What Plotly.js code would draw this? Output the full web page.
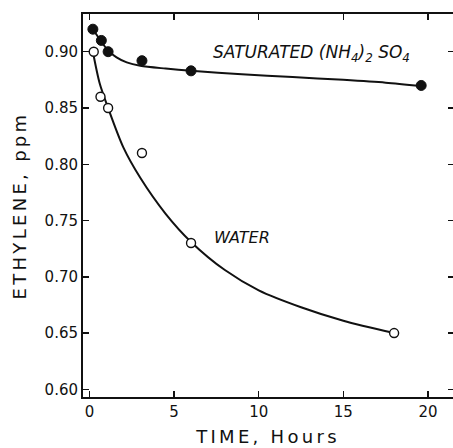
<!DOCTYPE html>
<html>
<head>
<meta charset="utf-8">
<script src="https://cdn.plot.ly/plotly-3.0.1.min.js"></script>
<style>
  html, body { margin: 0; padding: 0; background: #fff; overflow: hidden; }
  #chart { width: 453px; height: 448px; }
  .xtitle, .ytitle { letter-spacing: 3.3px; }
</style>
</head>
<body>
<div id="chart"></div>
<script>
// Measured points
const satTime   = [0.2, 0.7, 1.1, 3.1, 6.0, 19.6];
const satPpm    = [0.920, 0.910, 0.900, 0.892, 0.883, 0.870];
const waterTime = [0.25, 0.65, 1.1, 3.1, 6.0, 18.0];
const waterPpm  = [0.900, 0.860, 0.850, 0.810, 0.730, 0.650];

// Hand-drawn fitted curves
const satCurveTime  = [0.2, 0.7, 1.1, 1.6, 2.2, 3.0, 4.5, 6.0, 9.0, 12.0, 15.0, 17.5, 19.6];
const satCurvePpm   = [0.920, 0.909, 0.901, 0.895, 0.8905, 0.8875, 0.885, 0.883, 0.880, 0.8775, 0.875, 0.8725, 0.8695];
const waterCurveTime = [0.2, 0.6, 1.1, 2.0, 3.0, 4.5, 6.0, 8.0, 10.0, 12.5, 15.0, 18.0];
const waterCurvePpm  = [0.900, 0.872, 0.850, 0.815, 0.788, 0.756, 0.731, 0.706, 0.688, 0.673, 0.661, 0.650];

const xTicks = [0, 5, 10, 15, 20];
const xTickText = ['0', '5', '10', '15', '20'];
const yTicks = [0.60, 0.65, 0.70, 0.75, 0.80, 0.85, 0.90];
const yTickText = ['0.60', '0.65', '0.70', '0.75', '0.80', '0.85', '0.90'];

const ink = '#111';
const yRange = [0.5932, 0.9335];

const traces = [
  { x: satCurveTime, y: satCurvePpm, mode: 'lines', type: 'scatter',
    line: { color: ink, width: 2, shape: 'spline', smoothing: 0.8 }, hoverinfo: 'skip', showlegend: false },
  { x: waterCurveTime, y: waterCurvePpm, mode: 'lines', type: 'scatter',
    line: { color: ink, width: 2, shape: 'spline', smoothing: 0.8 }, hoverinfo: 'skip', showlegend: false },
  { x: satTime, y: satPpm, mode: 'markers', type: 'scatter', name: 'Saturated (NH4)2SO4',
    marker: { color: ink, size: 10, line: { color: ink, width: 1 } }, showlegend: false },
  { x: waterTime, y: waterPpm, mode: 'markers', type: 'scatter', name: 'Water',
    marker: { color: '#fff', size: 9, line: { color: ink, width: 1.4 } }, showlegend: false },
  // invisible carrier so the right-side tick axis is drawn
  { x: [], y: [], yaxis: 'y2', type: 'scatter', mode: 'markers', showlegend: false, hoverinfo: 'skip' }
];

const tickFont = { family: 'DejaVu Sans', size: 15, color: ink };

const layout = {
  width: 453, height: 448,
  margin: { l: 83, r: 0, t: 14, b: 51 },
  paper_bgcolor: '#fff', plot_bgcolor: '#fff',
  showlegend: false,
  xaxis: {
    range: [-0.384, 21.48],
    tickvals: xTicks, ticktext: xTickText,
    ticks: 'inside', ticklen: 6, tickwidth: 1.5, tickcolor: ink,
    showline: true, linecolor: ink, linewidth: 2, mirror: 'ticks',
    showgrid: false, zeroline: false,
    tickfont: tickFont,
    title: { text: 'TIME, Hours', font: { family: 'DejaVu Sans', size: 18, color: ink }, standoff: 10 },
    automargin: false
  },
  yaxis: {
    range: yRange,
    tickvals: yTicks, ticktext: yTickText,
    ticks: 'inside', ticklen: 6, tickwidth: 1.5, tickcolor: ink,
    showline: true, linecolor: ink, linewidth: 2, mirror: false,
    showgrid: false, zeroline: false,
    tickfont: tickFont,
    title: { text: 'ETHYLENE, ppm', font: { family: 'DejaVu Sans', size: 18, color: ink }, standoff: 13 },
    automargin: false
  },
  yaxis2: {
    range: yRange, overlaying: 'y', side: 'right',
    tickvals: yTicks, showticklabels: false,
    ticks: 'inside', ticklen: 5, tickwidth: 1.5, tickcolor: ink,
    showline: false, showgrid: false, zeroline: false, automargin: false
  },
  annotations: [
    { x: 13.1, y: 0.8985, xref: 'x', yref: 'y', text: 'SATURATED (NH<sub>4</sub>)<sub>2</sub> SO<sub>4</sub>',
      showarrow: false, font: { family: 'DejaVu Sans', size: 17, color: ink, style: 'italic' } },
    { x: 9.0, y: 0.735, xref: 'x', yref: 'y', text: 'WATER',
      showarrow: false, font: { family: 'DejaVu Sans', size: 16, color: ink, style: 'italic' } }
  ]
};

Plotly.newPlot('chart', traces, layout, { staticPlot: true, displayModeBar: false });
</script>
</body>
</html>
